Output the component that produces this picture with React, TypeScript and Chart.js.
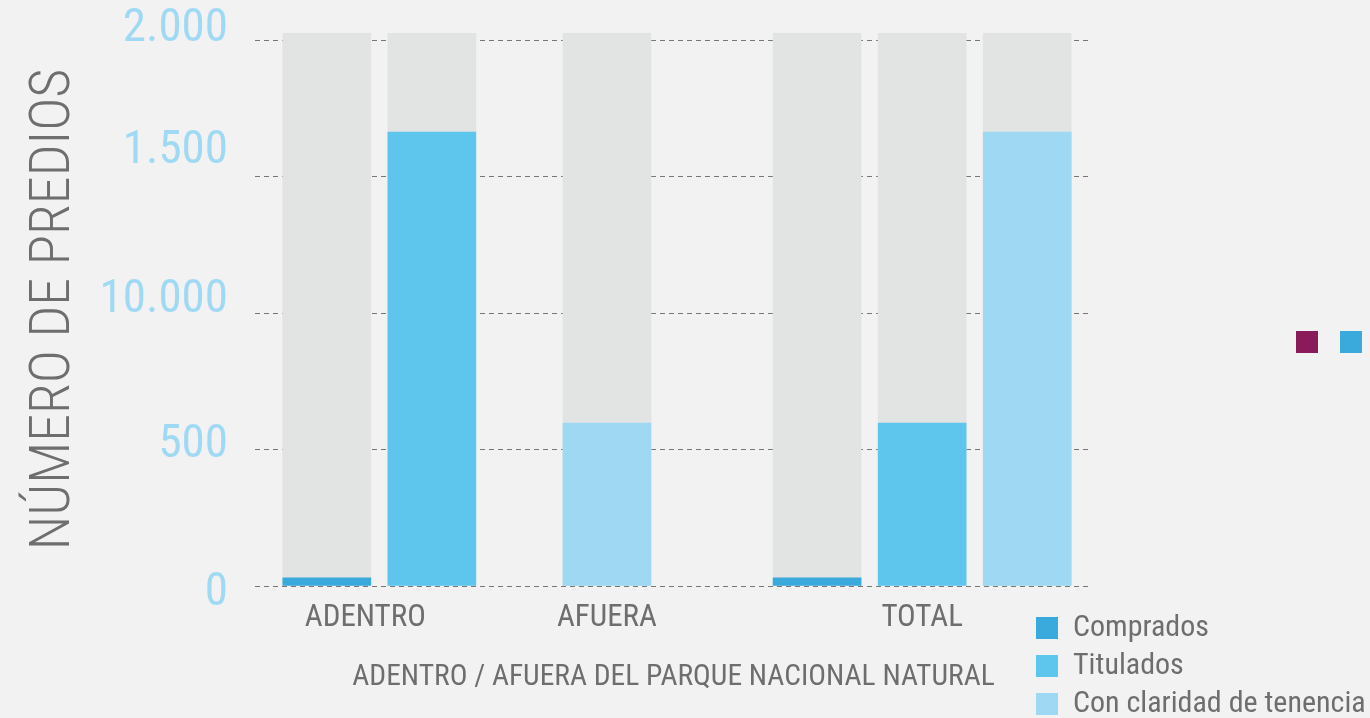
import React, { useEffect, useRef } from 'react';
import { Chart, registerables } from 'chart.js';

Chart.register(...registerables);

// ---------- data ----------
const categories = ['ADENTRO', 'AFUERA', 'TOTAL'];
const categoryTickSlots = [3.1, 10, 19];
const seriesNames = ['Comprados', 'Titulados', 'Con claridad de tenencia'];

const compradosSlots = [2, 16];
const compradosValues = [30, 30];
const tituladosSlots = [5, 19];
const tituladosValues = [1663, 597];
const claridadSlots = [10, 22];
const claridadValues = [597, 1663];
const backgroundSlots = [2, 5, 10, 16, 19, 22];
const backgroundValue = 2026;

const yTickValues = [0, 500, 1000, 1500, 2000];
const yTickLabels = ['0', '500', '10.000', '1.500', '2.000'];
const yTitle = 'NÚMERO DE PREDIOS';
const xTitle = 'ADENTRO / AFUERA DEL PARQUE NACIONAL NATURAL';

// ---------- styles ----------
const FAMILY = "Roboto, 'DejaVu Sans Condensed', sans-serif";
const TEXT = '#6e6e6e';
const COLORS = ['#3aa9dc', '#5ec6ed', '#9ed8f2'];
const GREY_BAR = '#e2e4e3';
const BG = '#f2f2f2';
// vertical nudge (px) of each y tick label, in tick order
const yLabelNudge = [7, -4, -13, -25, -11];

const toPoints = (xs: number[], ys: number[]) => xs.map((x, i) => ({ x, y: ys[i] }));

const pageBackground = {
  id: 'pageBackground',
  beforeDraw(chart: any) {
    const { ctx, width, height } = chart;
    ctx.save();
    ctx.fillStyle = BG;
    ctx.fillRect(0, 0, width, height);
    ctx.restore();
    const ys = chart.scales.y;
    if (ys) {
      const items = ys.getLabelItems();
      if (!items._nudged) {
        items.forEach((it: any, i: number) => {
          it.options.translation[1] += yLabelNudge[i] || 0;
        });
        items._nudged = true;
      }
    }
  },
};

const legendPlacement = {
  id: 'legendPlacement',
  afterLayout(chart: any) {
    const lg = chart.legend;
    if (!lg) return;
    const w = lg.width;
    const h = lg.height;
    lg.left = chart.chartArea.right - 64;
    lg.top = chart.chartArea.bottom + 19;
    lg.right = lg.left + w;
    lg.bottom = lg.top + h;
  },
};

const strayMarkers = {
  id: 'strayMarkers',
  afterDraw(chart: any) {
    const ctx = chart.ctx;
    ctx.save();
    ctx.fillStyle = '#8b1a5b';
    ctx.fillRect(1296, 331, 22, 22);
    ctx.fillStyle = '#3aa9dc';
    ctx.fillRect(1340, 331, 22, 22);
    ctx.restore();
  },
};

export default function App() {
  const ref = useRef<HTMLCanvasElement>(null);

  useEffect(() => {
    if (!ref.current) return;
    const chart = new Chart(ref.current, {
      type: 'bar',
      data: {
        datasets: [
          { label: seriesNames[0], data: toPoints(compradosSlots, compradosValues), backgroundColor: COLORS[0] },
          { label: seriesNames[1], data: toPoints(tituladosSlots, tituladosValues), backgroundColor: COLORS[1] },
          { label: seriesNames[2], data: toPoints(claridadSlots, claridadValues), backgroundColor: COLORS[2] },
          {
            label: 'fondo',
            data: backgroundSlots.map((x) => ({ x, y: backgroundValue })),
            backgroundColor: GREY_BAR,
          },
        ],
      },
      options: {
        responsive: false,
        animation: false,
        events: [],
        layout: { padding: { top: 33, right: 278, bottom: 0, left: 0 } },
        datasets: {
          bar: { grouped: false, barThickness: 88, borderWidth: 0 } as any,
        },
        scales: {
          x: {
            type: 'linear',
            offset: false,
            min: -0.05,
            max: 23.85,
            grid: { display: false, drawTicks: false },
            border: { display: false },
            afterBuildTicks: (axis: any) => {
              axis.ticks = categoryTickSlots.map((v) => ({ value: v }));
            },
            afterFit: (s: any) => {
              s.height = 132;
              s.paddingLeft = 0;
              s.paddingRight = 0;
            },
            ticks: {
              autoSkip: false,
              maxRotation: 0,
              minRotation: 0,
              padding: 14,
              color: TEXT,
              font: { family: FAMILY, weight: '400 condensed', size: 31 },
              callback: (value: any) => categories[categoryTickSlots.indexOf(Number(value))] ?? '',
            },
            title: {
              display: true,
              text: xTitle,
              color: TEXT,
              font: { family: FAMILY, weight: '400 condensed', size: 29.5 },
              padding: { top: 0, bottom: 23 },
            },
          },
          y: {
            type: 'linear',
            min: 0,
            max: backgroundValue,
            grid: { color: '#777777', lineWidth: 1, drawTicks: false },
            border: { display: false, dash: [5, 4] },
            afterBuildTicks: (axis: any) => {
              axis.ticks = yTickValues.map((v) => ({ value: v }));
            },
            afterFit: (s: any) => {
              s.width = 255;
              s.paddingTop = 0;
              s.paddingBottom = 0;
            },
            ticks: {
              padding: 27,
              color: '#a0d9f3',
              font: { family: FAMILY, weight: '400 condensed', size: 47 },
              callback: (value: any) => yTickLabels[yTickValues.indexOf(Number(value))] ?? '',
            },
            title: {
              display: true,
              text: yTitle,
              color: TEXT,
              font: { family: FAMILY, weight: '300 condensed', size: 56 },
              padding: { top: 21, bottom: 0 },
            },
          },
        },
        plugins: {
          tooltip: { enabled: false },
          title: { display: false },
          legend: {
            position: 'chartArea',
            align: 'start',
            labels: {
              boxWidth: 22,
              boxHeight: 22,
              padding: 8,
              color: TEXT,
              font: { family: FAMILY, weight: '400 condensed', size: 30 },
              filter: (item: any) => item.datasetIndex < 3,
            },
          },
        },
      } as any,
      plugins: [pageBackground, legendPlacement, strayMarkers],
    });
    return () => chart.destroy();
  }, []);

  return (
    <div style={{ position: 'fixed', left: 0, top: 0, width: 1370, height: 718, background: BG }}>
      <canvas ref={ref} width={1370} height={718} style={{ display: 'block', width: 1370, height: 718 }} />
    </div>
  );
}
